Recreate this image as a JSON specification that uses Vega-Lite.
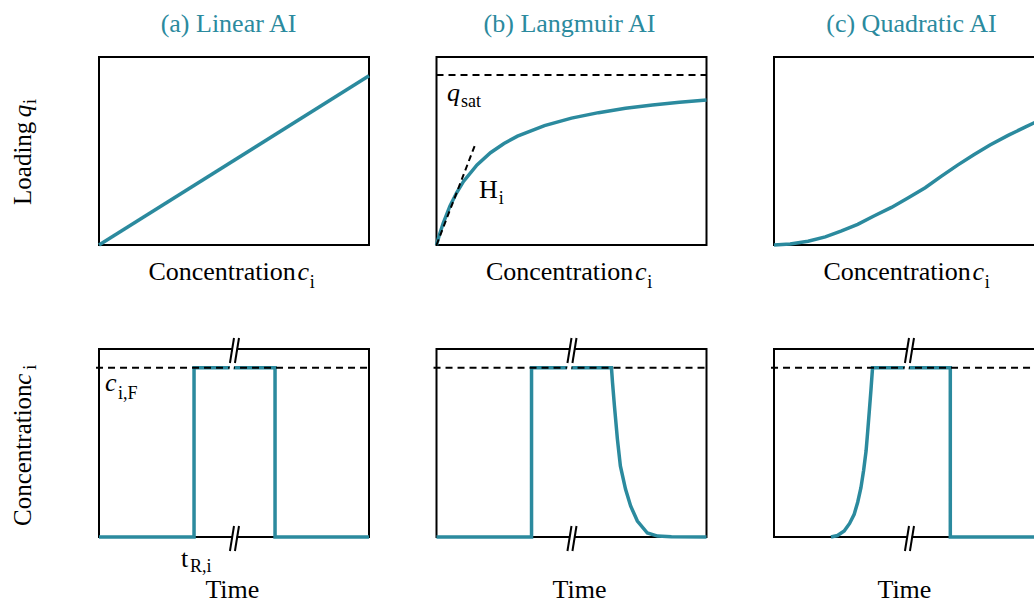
{
  "$schema": "https://vega.github.io/schema/vega-lite/v6.json",
  "background": "white",
  "padding": {"left": 10, "top": 10, "right": 0, "bottom": 0},
  "data": {"values": [{}]},
  "datasets": {
    "lin": [{"x": 0, "y": 0}, {"x": 1, "y": 0.9}],
    "lang": [
      {"x": 0, "y": 0}, {"x": 0.01, "y": 0.051}, {"x": 0.025, "y": 0.117}, {"x": 0.05, "y": 0.208},
      {"x": 0.075, "y": 0.279}, {"x": 0.1, "y": 0.338}, {"x": 0.15, "y": 0.426}, {"x": 0.2, "y": 0.491},
      {"x": 0.25, "y": 0.54}, {"x": 0.3, "y": 0.579}, {"x": 0.4, "y": 0.635}, {"x": 0.5, "y": 0.675},
      {"x": 0.6, "y": 0.704}, {"x": 0.7, "y": 0.727}, {"x": 0.8, "y": 0.745}, {"x": 0.9, "y": 0.759},
      {"x": 1, "y": 0.771}
    ],
    "tan": [{"x": 0, "y": 0}, {"x": 0.144, "y": 0.537}],
    "quad": [
      {"x": 0, "y": 0}, {"x": 0.06, "y": 0.005}, {"x": 0.126, "y": 0.02}, {"x": 0.19, "y": 0.043},
      {"x": 0.248, "y": 0.074}, {"x": 0.31, "y": 0.11}, {"x": 0.37, "y": 0.154}, {"x": 0.435, "y": 0.2},
      {"x": 0.496, "y": 0.25}, {"x": 0.56, "y": 0.305}, {"x": 0.619, "y": 0.365}, {"x": 0.68, "y": 0.425},
      {"x": 0.74, "y": 0.48}, {"x": 0.8, "y": 0.532}, {"x": 0.867, "y": 0.583}, {"x": 0.93, "y": 0.627},
      {"x": 0.9667, "y": 0.652}
    ],
    "pa": [
      {"i": 0, "x": 0, "y": 0}, {"i": 1, "x": 0.352, "y": 0}, {"i": 2, "x": 0.352, "y": 0.9},
      {"i": 3, "x": 0.652, "y": 0.9}, {"i": 4, "x": 0.652, "y": 0}, {"i": 5, "x": 1, "y": 0}
    ],
    "pb": [
      {"i": 0, "x": 0, "y": 0}, {"i": 1, "x": 0.352, "y": 0}, {"i": 2, "x": 0.352, "y": 0.9},
      {"i": 3, "x": 0.648, "y": 0.9}, {"i": 4, "x": 0.652, "y": 0.82}, {"i": 5, "x": 0.659, "y": 0.697},
      {"i": 6, "x": 0.67, "y": 0.521}, {"i": 7, "x": 0.681, "y": 0.378}, {"i": 8, "x": 0.7, "y": 0.255},
      {"i": 9, "x": 0.719, "y": 0.165}, {"i": 10, "x": 0.744, "y": 0.085}, {"i": 11, "x": 0.781, "y": 0.021},
      {"i": 12, "x": 0.819, "y": 0.005}, {"i": 13, "x": 0.87, "y": 0.001}, {"i": 14, "x": 1, "y": 0}
    ],
    "pc": [
      {"i": 0, "x": 0.211, "y": 0}, {"i": 1, "x": 0.235, "y": 0.008}, {"i": 2, "x": 0.26, "y": 0.032},
      {"i": 3, "x": 0.28, "y": 0.072}, {"i": 4, "x": 0.297, "y": 0.121}, {"i": 5, "x": 0.31, "y": 0.185},
      {"i": 6, "x": 0.322, "y": 0.262}, {"i": 7, "x": 0.332, "y": 0.355}, {"i": 8, "x": 0.341, "y": 0.457},
      {"i": 9, "x": 0.347, "y": 0.56}, {"i": 10, "x": 0.353, "y": 0.67}, {"i": 11, "x": 0.359, "y": 0.78},
      {"i": 12, "x": 0.365, "y": 0.9}, {"i": 13, "x": 0.653, "y": 0.9}, {"i": 14, "x": 0.653, "y": 0},
      {"i": 15, "x": 0.9667, "y": 0}
    ],
    "brk": [
      {"k": "w", "x": 0.489, "y": 0.875, "x2": 0.509, "y2": 1.0585},
      {"k": "w", "x": 0.494, "y": -0.0745, "x2": 0.509, "y2": 0.0585},
      {"k": "b", "x": 0.485, "y": 0.9255, "x2": 0.5, "y2": 1.0585},
      {"k": "b", "x": 0.5035, "y": 0.9255, "x2": 0.5185, "y2": 1.0585},
      {"k": "b", "x": 0.485, "y": -0.0745, "x2": 0.5, "y2": 0.0585},
      {"k": "b", "x": 0.5035, "y": -0.0745, "x2": 0.5185, "y2": 0.0585}
    ]
  },
  "concat": [
    {
      "width": 270, "height": 188,
      "layer": [
        {"mark": {"type": "rect", "filled": false, "stroke": "black", "strokeWidth": 2},
         "encoding": {"x": {"datum": 0, "scale": {"domain": [0, 1], "nice": false, "zero": false}}, "x2": {"datum": 1},
                      "y": {"datum": 0, "scale": {"domain": [0, 1], "nice": false, "zero": false}}, "y2": {"datum": 1}}},
        {"data": {"name": "lin"}, "mark": {"type": "line", "stroke": "#2B8A9E", "strokeWidth": 3.5},
         "encoding": {"x": {"field": "x", "type": "quantitative", "scale": {"domain": [0, 1], "nice": false, "zero": false}},
                      "y": {"field": "y", "type": "quantitative", "scale": {"domain": [0, 1], "nice": false, "zero": false}}}},
        {"mark": {"type": "text", "font": "Times New Roman", "align": "center", "baseline": "alphabetic", "text": "(a) Linear AI", "fill": "#2B8A9E", "fontSize": 26},
         "encoding": {"x": {"datum": 0.4796, "scale": {"domain": [0, 1], "nice": false, "zero": false}},
                      "y": {"datum": 1.133, "scale": {"domain": [0, 1], "nice": false, "zero": false}}}},
        {"mark": {"type": "text", "font": "Times New Roman", "align": "left", "baseline": "alphabetic", "fill": "black", "fontSize": 26, "text": "Concentration"},
         "encoding": {"x": {"datum": 0.183, "scale": {"domain": [0, 1], "nice": false, "zero": false}},
                      "y": {"datum": -0.186, "scale": {"domain": [0, 1], "nice": false, "zero": false}}}},
        {"mark": {"type": "text", "font": "Times New Roman", "align": "left", "baseline": "alphabetic", "fill": "black", "fontSize": 26, "text": "c", "fontStyle": "italic"},
         "encoding": {"x": {"datum": 0.735, "scale": {"domain": [0, 1], "nice": false, "zero": false}},
                      "y": {"datum": -0.186, "scale": {"domain": [0, 1], "nice": false, "zero": false}}}},
        {"mark": {"type": "text", "font": "Times New Roman", "align": "left", "baseline": "alphabetic", "fill": "black", "text": "i", "fontSize": 18},
         "encoding": {"x": {"datum": 0.781, "scale": {"domain": [0, 1], "nice": false, "zero": false}},
                      "y": {"datum": -0.229, "scale": {"domain": [0, 1], "nice": false, "zero": false}}}},
        {"mark": {"type": "text", "font": "Times New Roman", "align": "left", "baseline": "alphabetic", "fill": "black", "text": "Loading", "angle": 270, "fontSize": 25},
         "encoding": {"x": {"datum": -0.252, "scale": {"domain": [0, 1], "nice": false, "zero": false}},
                      "y": {"datum": 0.213, "scale": {"domain": [0, 1], "nice": false, "zero": false}}}},
        {"mark": {"type": "text", "font": "Times New Roman", "align": "left", "baseline": "alphabetic", "fill": "black", "text": "q", "angle": 270, "fontSize": 25, "fontStyle": "italic"},
         "encoding": {"x": {"datum": -0.252, "scale": {"domain": [0, 1], "nice": false, "zero": false}},
                      "y": {"datum": 0.68, "scale": {"domain": [0, 1], "nice": false, "zero": false}}}},
        {"mark": {"type": "text", "font": "Times New Roman", "align": "left", "baseline": "alphabetic", "fill": "black", "text": "i", "angle": 270, "fontSize": 18},
         "encoding": {"x": {"datum": -0.233, "scale": {"domain": [0, 1], "nice": false, "zero": false}},
                      "y": {"datum": 0.75, "scale": {"domain": [0, 1], "nice": false, "zero": false}}}}
      ]
    },
    {
      "width": 270, "height": 188,
      "layer": [
        {"mark": {"type": "rect", "filled": false, "stroke": "black", "strokeWidth": 2},
         "encoding": {"x": {"datum": 0, "scale": {"domain": [0, 1], "nice": false, "zero": false}}, "x2": {"datum": 1},
                      "y": {"datum": 0, "scale": {"domain": [0, 1], "nice": false, "zero": false}}, "y2": {"datum": 1}}},
        {"mark": {"type": "rule", "stroke": "black", "strokeWidth": 2, "strokeDash": [7, 5]},
         "encoding": {"x": {"datum": 0, "scale": {"domain": [0, 1], "nice": false, "zero": false}}, "x2": {"datum": 1},
                      "y": {"datum": 0.904, "scale": {"domain": [0, 1], "nice": false, "zero": false}}}},
        {"data": {"name": "lang"}, "mark": {"type": "line", "stroke": "#2B8A9E", "strokeWidth": 3.5},
         "encoding": {"x": {"field": "x", "type": "quantitative", "scale": {"domain": [0, 1], "nice": false, "zero": false}},
                      "y": {"field": "y", "type": "quantitative", "scale": {"domain": [0, 1], "nice": false, "zero": false}}}},
        {"data": {"name": "tan"}, "mark": {"type": "line", "stroke": "black", "strokeWidth": 2, "strokeDash": [6, 4]},
         "encoding": {"x": {"field": "x", "type": "quantitative", "scale": {"domain": [0, 1], "nice": false, "zero": false}},
                      "y": {"field": "y", "type": "quantitative", "scale": {"domain": [0, 1], "nice": false, "zero": false}}}},
        {"mark": {"type": "text", "font": "Times New Roman", "align": "center", "baseline": "alphabetic", "text": "(b) Langmuir AI", "fill": "#2B8A9E", "fontSize": 26},
         "encoding": {"x": {"datum": 0.4926, "scale": {"domain": [0, 1], "nice": false, "zero": false}},
                      "y": {"datum": 1.133, "scale": {"domain": [0, 1], "nice": false, "zero": false}}}},
        {"mark": {"type": "text", "font": "Times New Roman", "align": "left", "baseline": "alphabetic", "fill": "black", "fontSize": 26, "text": "Concentration"},
         "encoding": {"x": {"datum": 0.183, "scale": {"domain": [0, 1], "nice": false, "zero": false}},
                      "y": {"datum": -0.186, "scale": {"domain": [0, 1], "nice": false, "zero": false}}}},
        {"mark": {"type": "text", "font": "Times New Roman", "align": "left", "baseline": "alphabetic", "fill": "black", "fontSize": 26, "text": "c", "fontStyle": "italic"},
         "encoding": {"x": {"datum": 0.735, "scale": {"domain": [0, 1], "nice": false, "zero": false}},
                      "y": {"datum": -0.186, "scale": {"domain": [0, 1], "nice": false, "zero": false}}}},
        {"mark": {"type": "text", "font": "Times New Roman", "align": "left", "baseline": "alphabetic", "fill": "black", "text": "i", "fontSize": 18},
         "encoding": {"x": {"datum": 0.781, "scale": {"domain": [0, 1], "nice": false, "zero": false}},
                      "y": {"datum": -0.229, "scale": {"domain": [0, 1], "nice": false, "zero": false}}}},
        {"mark": {"type": "text", "font": "Times New Roman", "align": "left", "baseline": "alphabetic", "fill": "black", "fontSize": 26, "text": "q", "fontStyle": "italic"},
         "encoding": {"x": {"datum": 0.039, "scale": {"domain": [0, 1], "nice": false, "zero": false}},
                      "y": {"datum": 0.766, "scale": {"domain": [0, 1], "nice": false, "zero": false}}}},
        {"mark": {"type": "text", "font": "Times New Roman", "align": "left", "baseline": "alphabetic", "fill": "black", "text": "sat", "fontSize": 18},
         "encoding": {"x": {"datum": 0.0907, "scale": {"domain": [0, 1], "nice": false, "zero": false}},
                      "y": {"datum": 0.734, "scale": {"domain": [0, 1], "nice": false, "zero": false}}}},
        {"mark": {"type": "text", "font": "Times New Roman", "align": "left", "baseline": "alphabetic", "fill": "black", "fontSize": 26, "text": "H"},
         "encoding": {"x": {"datum": 0.157, "scale": {"domain": [0, 1], "nice": false, "zero": false}},
                      "y": {"datum": 0.25, "scale": {"domain": [0, 1], "nice": false, "zero": false}}}},
        {"mark": {"type": "text", "font": "Times New Roman", "align": "left", "baseline": "alphabetic", "fill": "black", "text": "i", "fontSize": 18},
         "encoding": {"x": {"datum": 0.231, "scale": {"domain": [0, 1], "nice": false, "zero": false}},
                      "y": {"datum": 0.218, "scale": {"domain": [0, 1], "nice": false, "zero": false}}}}
      ]
    },
    {
      "width": 261, "height": 188,
      "layer": [
        {"mark": {"type": "rule", "stroke": "black", "strokeWidth": 2, "strokeCap": "square"},
         "encoding": {"x": {"datum": 0, "scale": {"domain": [0, 0.9667], "nice": false, "zero": false}}, "x2": {"datum": 0.9667},
                      "y": {"datum": 1, "scale": {"domain": [0, 1], "nice": false, "zero": false}}}},
        {"mark": {"type": "rule", "stroke": "black", "strokeWidth": 2, "strokeCap": "square"},
         "encoding": {"x": {"datum": 0, "scale": {"domain": [0, 0.9667], "nice": false, "zero": false}}, "x2": {"datum": 0.9667},
                      "y": {"datum": 0, "scale": {"domain": [0, 1], "nice": false, "zero": false}}}},
        {"mark": {"type": "rule", "stroke": "black", "strokeWidth": 2, "strokeCap": "square"},
         "encoding": {"x": {"datum": 0, "scale": {"domain": [0, 0.9667], "nice": false, "zero": false}},
                      "y": {"datum": 0, "scale": {"domain": [0, 1], "nice": false, "zero": false}}, "y2": {"datum": 1}}},
        {"data": {"name": "quad"}, "mark": {"type": "line", "stroke": "#2B8A9E", "strokeWidth": 3.5},
         "encoding": {"x": {"field": "x", "type": "quantitative", "scale": {"domain": [0, 0.9667], "nice": false, "zero": false}},
                      "y": {"field": "y", "type": "quantitative", "scale": {"domain": [0, 1], "nice": false, "zero": false}}}},
        {"mark": {"type": "text", "font": "Times New Roman", "align": "center", "baseline": "alphabetic", "text": "(c) Quadratic AI", "fill": "#2B8A9E", "fontSize": 26},
         "encoding": {"x": {"datum": 0.509, "scale": {"domain": [0, 0.9667], "nice": false, "zero": false}},
                      "y": {"datum": 1.133, "scale": {"domain": [0, 1], "nice": false, "zero": false}}}},
        {"mark": {"type": "text", "font": "Times New Roman", "align": "left", "baseline": "alphabetic", "fill": "black", "fontSize": 26, "text": "Concentration"},
         "encoding": {"x": {"datum": 0.183, "scale": {"domain": [0, 0.9667], "nice": false, "zero": false}},
                      "y": {"datum": -0.186, "scale": {"domain": [0, 1], "nice": false, "zero": false}}}},
        {"mark": {"type": "text", "font": "Times New Roman", "align": "left", "baseline": "alphabetic", "fill": "black", "fontSize": 26, "text": "c", "fontStyle": "italic"},
         "encoding": {"x": {"datum": 0.735, "scale": {"domain": [0, 0.9667], "nice": false, "zero": false}},
                      "y": {"datum": -0.186, "scale": {"domain": [0, 1], "nice": false, "zero": false}}}},
        {"mark": {"type": "text", "font": "Times New Roman", "align": "left", "baseline": "alphabetic", "fill": "black", "text": "i", "fontSize": 18},
         "encoding": {"x": {"datum": 0.781, "scale": {"domain": [0, 0.9667], "nice": false, "zero": false}},
                      "y": {"datum": -0.229, "scale": {"domain": [0, 1], "nice": false, "zero": false}}}}
      ]
    },
    {
      "width": 270, "height": 188,
      "layer": [
        {"mark": {"type": "rect", "filled": false, "stroke": "black", "strokeWidth": 2},
         "encoding": {"x": {"datum": 0, "scale": {"domain": [0, 1], "nice": false, "zero": false}}, "x2": {"datum": 1},
                      "y": {"datum": 0, "scale": {"domain": [0, 1], "nice": false, "zero": false}}, "y2": {"datum": 1}}},
        {"data": {"name": "pa"}, "mark": {"type": "line", "stroke": "#2B8A9E", "strokeWidth": 3.5, "strokeJoin": "miter"},
         "encoding": {"x": {"field": "x", "type": "quantitative", "scale": {"domain": [0, 1], "nice": false, "zero": false}},
                      "y": {"field": "y", "type": "quantitative", "scale": {"domain": [0, 1], "nice": false, "zero": false}},
                      "order": {"field": "i", "type": "quantitative"}}},
        {"mark": {"type": "rule", "stroke": "black", "strokeWidth": 2, "strokeDash": [7, 5]},
         "encoding": {"x": {"datum": -0.011, "scale": {"domain": [0, 1], "nice": false, "zero": false}}, "x2": {"datum": 1},
                      "y": {"datum": 0.9, "scale": {"domain": [0, 1], "nice": false, "zero": false}}}},
        {"data": {"name": "brk"}, "transform": [{"filter": "datum.k == 'w'"}],
         "mark": {"type": "rule", "stroke": "white", "strokeWidth": 4},
         "encoding": {"x": {"field": "x", "type": "quantitative", "scale": {"domain": [0, 1], "nice": false, "zero": false}}, "x2": {"field": "x2"},
                      "y": {"field": "y", "type": "quantitative", "scale": {"domain": [0, 1], "nice": false, "zero": false}}, "y2": {"field": "y2"}}},
        {"data": {"name": "brk"}, "transform": [{"filter": "datum.k == 'b'"}],
         "mark": {"type": "rule", "stroke": "black", "strokeWidth": 2},
         "encoding": {"x": {"field": "x", "type": "quantitative", "scale": {"domain": [0, 1], "nice": false, "zero": false}}, "x2": {"field": "x2"},
                      "y": {"field": "y", "type": "quantitative", "scale": {"domain": [0, 1], "nice": false, "zero": false}}, "y2": {"field": "y2"}}},
        {"mark": {"type": "text", "font": "Times New Roman", "align": "left", "baseline": "alphabetic", "fill": "black", "fontSize": 26, "text": "c", "fontStyle": "italic"},
         "encoding": {"x": {"datum": 0.022, "scale": {"domain": [0, 1], "nice": false, "zero": false}},
                      "y": {"datum": 0.777, "scale": {"domain": [0, 1], "nice": false, "zero": false}}}},
        {"mark": {"type": "text", "font": "Times New Roman", "align": "left", "baseline": "alphabetic", "fill": "black", "text": "i,F", "fontSize": 18},
         "encoding": {"x": {"datum": 0.07, "scale": {"domain": [0, 1], "nice": false, "zero": false}},
                      "y": {"datum": 0.734, "scale": {"domain": [0, 1], "nice": false, "zero": false}}}},
        {"mark": {"type": "text", "font": "Times New Roman", "align": "left", "baseline": "alphabetic", "fill": "black", "fontSize": 26, "text": "t"},
         "encoding": {"x": {"datum": 0.304, "scale": {"domain": [0, 1], "nice": false, "zero": false}},
                      "y": {"datum": -0.16, "scale": {"domain": [0, 1], "nice": false, "zero": false}}}},
        {"mark": {"type": "text", "font": "Times New Roman", "align": "left", "baseline": "alphabetic", "fill": "black", "text": "R,i", "fontSize": 18},
         "encoding": {"x": {"datum": 0.337, "scale": {"domain": [0, 1], "nice": false, "zero": false}},
                      "y": {"datum": -0.186, "scale": {"domain": [0, 1], "nice": false, "zero": false}}}},
        {"mark": {"type": "text", "font": "Times New Roman", "align": "center", "baseline": "alphabetic", "fill": "black", "fontSize": 26, "text": "Time"},
         "encoding": {"x": {"datum": 0.494, "scale": {"domain": [0, 1], "nice": false, "zero": false}},
                      "y": {"datum": -0.324, "scale": {"domain": [0, 1], "nice": false, "zero": false}}}},
        {"mark": {"type": "text", "font": "Times New Roman", "align": "left", "baseline": "alphabetic", "fill": "black", "text": "Concentration", "angle": 270, "fontSize": 25},
         "encoding": {"x": {"datum": -0.252, "scale": {"domain": [0, 1], "nice": false, "zero": false}},
                      "y": {"datum": 0.0585, "scale": {"domain": [0, 1], "nice": false, "zero": false}}}},
        {"mark": {"type": "text", "font": "Times New Roman", "align": "left", "baseline": "alphabetic", "fill": "black", "text": "c", "angle": 270, "fontSize": 25, "fontStyle": "italic"},
         "encoding": {"x": {"datum": -0.252, "scale": {"domain": [0, 1], "nice": false, "zero": false}},
                      "y": {"datum": 0.81, "scale": {"domain": [0, 1], "nice": false, "zero": false}}}},
        {"mark": {"type": "text", "font": "Times New Roman", "align": "left", "baseline": "alphabetic", "fill": "black", "text": "i", "angle": 270, "fontSize": 18},
         "encoding": {"x": {"datum": -0.233, "scale": {"domain": [0, 1], "nice": false, "zero": false}},
                      "y": {"datum": 0.89, "scale": {"domain": [0, 1], "nice": false, "zero": false}}}}
      ]
    },
    {
      "width": 270, "height": 188,
      "layer": [
        {"mark": {"type": "rect", "filled": false, "stroke": "black", "strokeWidth": 2},
         "encoding": {"x": {"datum": 0, "scale": {"domain": [0, 1], "nice": false, "zero": false}}, "x2": {"datum": 1},
                      "y": {"datum": 0, "scale": {"domain": [0, 1], "nice": false, "zero": false}}, "y2": {"datum": 1}}},
        {"data": {"name": "pb"}, "mark": {"type": "line", "stroke": "#2B8A9E", "strokeWidth": 3.5, "strokeJoin": "miter"},
         "encoding": {"x": {"field": "x", "type": "quantitative", "scale": {"domain": [0, 1], "nice": false, "zero": false}},
                      "y": {"field": "y", "type": "quantitative", "scale": {"domain": [0, 1], "nice": false, "zero": false}},
                      "order": {"field": "i", "type": "quantitative"}}},
        {"mark": {"type": "rule", "stroke": "black", "strokeWidth": 2, "strokeDash": [7, 5]},
         "encoding": {"x": {"datum": -0.011, "scale": {"domain": [0, 1], "nice": false, "zero": false}}, "x2": {"datum": 1},
                      "y": {"datum": 0.9, "scale": {"domain": [0, 1], "nice": false, "zero": false}}}},
        {"data": {"name": "brk"}, "transform": [{"filter": "datum.k == 'w'"}],
         "mark": {"type": "rule", "stroke": "white", "strokeWidth": 4},
         "encoding": {"x": {"field": "x", "type": "quantitative", "scale": {"domain": [0, 1], "nice": false, "zero": false}}, "x2": {"field": "x2"},
                      "y": {"field": "y", "type": "quantitative", "scale": {"domain": [0, 1], "nice": false, "zero": false}}, "y2": {"field": "y2"}}},
        {"data": {"name": "brk"}, "transform": [{"filter": "datum.k == 'b'"}],
         "mark": {"type": "rule", "stroke": "black", "strokeWidth": 2},
         "encoding": {"x": {"field": "x", "type": "quantitative", "scale": {"domain": [0, 1], "nice": false, "zero": false}}, "x2": {"field": "x2"},
                      "y": {"field": "y", "type": "quantitative", "scale": {"domain": [0, 1], "nice": false, "zero": false}}, "y2": {"field": "y2"}}},
        {"mark": {"type": "text", "font": "Times New Roman", "align": "center", "baseline": "alphabetic", "fill": "black", "fontSize": 26, "text": "Time"},
         "encoding": {"x": {"datum": 0.5296, "scale": {"domain": [0, 1], "nice": false, "zero": false}},
                      "y": {"datum": -0.324, "scale": {"domain": [0, 1], "nice": false, "zero": false}}}}
      ]
    },
    {
      "width": 261, "height": 188,
      "layer": [
        {"mark": {"type": "rule", "stroke": "black", "strokeWidth": 2, "strokeCap": "square"},
         "encoding": {"x": {"datum": 0, "scale": {"domain": [0, 0.9667], "nice": false, "zero": false}}, "x2": {"datum": 0.9667},
                      "y": {"datum": 1, "scale": {"domain": [0, 1], "nice": false, "zero": false}}}},
        {"mark": {"type": "rule", "stroke": "black", "strokeWidth": 2, "strokeCap": "square"},
         "encoding": {"x": {"datum": 0, "scale": {"domain": [0, 0.9667], "nice": false, "zero": false}}, "x2": {"datum": 0.9667},
                      "y": {"datum": 0, "scale": {"domain": [0, 1], "nice": false, "zero": false}}}},
        {"mark": {"type": "rule", "stroke": "black", "strokeWidth": 2, "strokeCap": "square"},
         "encoding": {"x": {"datum": 0, "scale": {"domain": [0, 0.9667], "nice": false, "zero": false}},
                      "y": {"datum": 0, "scale": {"domain": [0, 1], "nice": false, "zero": false}}, "y2": {"datum": 1}}},
        {"data": {"name": "pc"}, "mark": {"type": "line", "stroke": "#2B8A9E", "strokeWidth": 3.5, "strokeJoin": "miter"},
         "encoding": {"x": {"field": "x", "type": "quantitative", "scale": {"domain": [0, 0.9667], "nice": false, "zero": false}},
                      "y": {"field": "y", "type": "quantitative", "scale": {"domain": [0, 1], "nice": false, "zero": false}},
                      "order": {"field": "i", "type": "quantitative"}}},
        {"mark": {"type": "rule", "stroke": "black", "strokeWidth": 2, "strokeDash": [7, 5]},
         "encoding": {"x": {"datum": -0.011, "scale": {"domain": [0, 0.9667], "nice": false, "zero": false}}, "x2": {"datum": 0.9667},
                      "y": {"datum": 0.9, "scale": {"domain": [0, 1], "nice": false, "zero": false}}}},
        {"data": {"name": "brk"}, "transform": [{"filter": "datum.k == 'w'"}],
         "mark": {"type": "rule", "stroke": "white", "strokeWidth": 4},
         "encoding": {"x": {"field": "x", "type": "quantitative", "scale": {"domain": [0, 0.9667], "nice": false, "zero": false}}, "x2": {"field": "x2"},
                      "y": {"field": "y", "type": "quantitative", "scale": {"domain": [0, 1], "nice": false, "zero": false}}, "y2": {"field": "y2"}}},
        {"data": {"name": "brk"}, "transform": [{"filter": "datum.k == 'b'"}],
         "mark": {"type": "rule", "stroke": "black", "strokeWidth": 2},
         "encoding": {"x": {"field": "x", "type": "quantitative", "scale": {"domain": [0, 0.9667], "nice": false, "zero": false}}, "x2": {"field": "x2"},
                      "y": {"field": "y", "type": "quantitative", "scale": {"domain": [0, 1], "nice": false, "zero": false}}, "y2": {"field": "y2"}}},
        {"mark": {"type": "text", "font": "Times New Roman", "align": "center", "baseline": "alphabetic", "fill": "black", "fontSize": 26, "text": "Time"},
         "encoding": {"x": {"datum": 0.483, "scale": {"domain": [0, 0.9667], "nice": false, "zero": false}},
                      "y": {"datum": -0.324, "scale": {"domain": [0, 1], "nice": false, "zero": false}}}}
      ]
    }
  ],
  "columns": 3,
  "spacing": {"row": 104, "column": 67.5},
  "bounds": "flush",
  "config": {
    "font": "Times New Roman",
    "view": {"stroke": null},
    "axis": {"disable": true}
  }
}
